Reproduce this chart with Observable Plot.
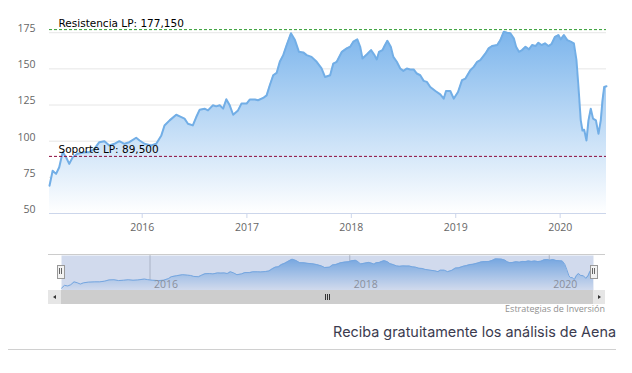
<!DOCTYPE html>
<html><head><meta charset="utf-8">
<script src="https://cdn.jsdelivr.net/npm/d3@7"></script>
<script src="https://cdn.jsdelivr.net/npm/@observablehq/plot@0.6"></script>
<style>
html,body{margin:0;padding:0;background:#fff;}
#wrap{position:relative;width:632px;height:373px;overflow:hidden;font-family:"Open Sans",sans-serif;}
#main{position:absolute;left:0;top:0;}
#nav{position:absolute;left:0;top:250px;}
.abs{position:absolute;}
</style></head><body>
<div id="wrap">
  <div id="main"></div>
  <div id="nav"></div>
  <div class="abs" style="left:48px;top:254px;width:557px;height:1px;background:#cccccc;"></div>
  <div class="abs" style="left:48px;top:290px;width:557px;height:14px;background:#cdcdcd;"></div>
  <div class="abs" style="left:48px;top:290px;width:13px;height:14px;background:#e6e6e6;"></div>
  <div class="abs" style="left:593px;top:290px;width:12px;height:14px;background:#e6e6e6;"></div>
  <div class="abs" style="left:53px;top:295px;width:0;height:0;border-top:2.5px solid transparent;border-bottom:2.5px solid transparent;border-right:3px solid #333;"></div>
  <div class="abs" style="left:598px;top:295px;width:0;height:0;border-top:2.5px solid transparent;border-bottom:2.5px solid transparent;border-left:3px solid #333;"></div>
  <div class="abs" style="left:325px;top:294px;width:1px;height:6px;background:#333;"></div>
  <div class="abs" style="left:327px;top:294px;width:1px;height:6px;background:#333;"></div>
  <div class="abs" style="left:329px;top:294px;width:1px;height:6px;background:#333;"></div>
  <div class="abs" style="left:57px;top:265px;width:6px;height:12px;background:#f2f2f2;border:1px solid #999;"></div>
  <div class="abs" style="left:59px;top:268px;width:1px;height:6px;background:#666;"></div>
  <div class="abs" style="left:61px;top:268px;width:1px;height:6px;background:#666;"></div>
  <div class="abs" style="left:590px;top:265px;width:6px;height:12px;background:#f2f2f2;border:1px solid #999;"></div>
  <div class="abs" style="left:592px;top:268px;width:1px;height:6px;background:#666;"></div>
  <div class="abs" style="left:594px;top:268px;width:1px;height:6px;background:#666;"></div>
  <div id="credit" class="abs" style="right:27px;top:302px;font-size:9px;color:#909090;white-space:nowrap;font-family:'Open Sans',sans-serif;"></div>
  <div id="cta" class="abs" style="right:16px;top:323px;font-size:14.4px;color:#3b3b4f;white-space:nowrap;font-family:Inter,sans-serif;"></div>
  <div class="abs" style="left:8px;top:349px;width:608px;height:1px;background:#d0d0d0;"></div>
</div>
<script>
const dates = [
"2015-02-11","2015-02-22","2015-03-06","2015-03-17","2015-03-29","2015-04-10","2015-04-21","2015-05-03","2015-05-20","2015-06-13",
"2015-06-30","2015-07-18","2015-08-04","2015-08-22","2015-09-08","2015-09-26","2015-10-13","2015-10-31","2015-11-17","2015-12-11",
"2015-12-23","2016-01-09","2016-02-02","2016-02-19","2016-03-08","2016-03-19","2016-04-06","2016-04-29","2016-05-17","2016-05-28",
"2016-06-09","2016-06-26","2016-07-08","2016-07-20","2016-08-06","2016-08-18","2016-09-04","2016-09-16","2016-09-28","2016-10-10",
"2016-10-21","2016-11-02","2016-11-14","2016-12-01","2016-12-13","2016-12-31","2017-01-11","2017-01-29","2017-02-09","2017-02-27",
"2017-03-11","2017-03-22","2017-04-03","2017-04-15","2017-04-26","2017-05-08","2017-05-20","2017-06-04","2017-06-18","2017-07-02",
"2017-07-17","2017-07-29","2017-08-15","2017-09-02","2017-09-19","2017-10-01","2017-10-19","2017-10-30","2017-11-11","2017-11-29",
"2017-12-16","2017-12-28","2018-01-08","2018-01-22","2018-02-01","2018-02-09","2018-02-24","2018-03-11","2018-03-23","2018-03-31",
"2018-04-08","2018-04-20","2018-04-27","2018-05-07","2018-05-19","2018-05-28","2018-06-09","2018-06-21","2018-07-02","2018-07-14",
"2018-07-26","2018-08-07","2018-08-18","2018-08-30","2018-09-11","2018-09-22","2018-10-04","2018-10-22","2018-11-08","2018-11-20",
"2018-11-28","2018-12-13","2018-12-25","2019-01-09","2019-01-23","2019-02-04","2019-02-21","2019-03-05","2019-03-17","2019-03-28",
"2019-04-15","2019-04-26","2019-05-08","2019-05-26","2019-06-06","2019-06-18","2019-06-30","2019-07-11","2019-07-23","2019-07-31",
"2019-08-10","2019-08-21","2019-09-02","2019-09-14","2019-09-25","2019-10-07","2019-10-17","2019-10-28","2019-11-09","2019-11-21",
"2019-12-02","2019-12-14","2019-12-26","2020-01-03","2020-01-14","2020-01-26","2020-02-07","2020-02-18","2020-02-27","2020-03-05",
"2020-03-13","2020-03-19","2020-03-25","2020-04-02","2020-04-09","2020-04-17","2020-04-25","2020-05-05","2020-05-14","2020-05-22",
"2020-05-28","2020-06-03","2020-06-11"
];
const prices = [
69.2,79.6,77.4,82,92.4,88.9,84.3,88.9,91.3,92.4,
92.4,94.7,99.3,100,97,98.2,100,98.2,99.3,102.4,
100.5,98.2,97,98.2,104,110.9,114.4,118.3,116.7,115.6,
112.1,110.9,116.7,121.8,122.5,121.3,124.8,124.1,124.8,122.5,
129,124.8,118.3,121.3,126,126,128.8,128.8,128.3,129.9,
131.7,138.7,145.6,147.2,154.9,159.5,166.5,174.6,169.9,161.8,
161.4,159.5,158.3,154.9,150.3,144.4,145.6,153.7,154.9,161.8,
164.2,165.3,168.8,170.4,165.3,157.2,160,163,159.5,156.5,
161.8,163,165.8,169.4,165.3,158.3,154.9,150.3,148.6,150.3,
149.6,149.6,146.8,145.6,141.7,141,137.5,134.7,132.4,129.4,
134.7,134.7,129.4,134,142.2,143.3,149.1,151.4,154.9,156,
160.7,164.2,165.8,166.5,169.9,175.7,175,174.6,171.1,165.3,
161.8,163,165.3,163.5,166.5,165.8,168.1,166.5,167.7,165.8,
167.2,172.2,173.4,170.4,173.4,169.9,168.8,167.7,156,137.5,
114.4,107.4,107.9,100.5,114.4,122.5,115.6,114.4,105.1,114.4,
128.3,137.5,138
];
const yTicks = [50, 75, 100, 125, 150, 175];
const xTickYears = [2016, 2017, 2018, 2019, 2020];
const navTickYears = [2016, 2018, 2020];
const supportValue = 89.5;
const resistanceValue = 177.15;
const supportLabel = "Soporte LP: 89,500";
const resistanceLabel = "Resistencia LP: 177,150";
const creditText = "Estrategias de Inversión";
const ctaText = "Reciba gratuitamente los análisis de Aena";

const data = dates.map((d, i) => ({date: new Date(d), price: prices[i]}));
const domainX = [data[0].date, data[data.length - 1].date];
const yearDate = y => new Date(Date.UTC(y, 0, 1));

function gradient(id, top, bottom) {
  return () => {
    const defs = d3.create("svg:defs");
    const g = defs.append("linearGradient").attr("id", id)
      .attr("x1", 0).attr("y1", 0).attr("x2", 0).attr("y2", 1);
    g.append("stop").attr("offset", "0%").attr("stop-color", top);
    g.append("stop").attr("offset", "100%").attr("stop-color", bottom);
    return defs.node();
  };
}

const labelStyle = {frameAnchor: "left", dx: 9, dy: -3, lineAnchor: "bottom", textAnchor: "start", fill: "#000", fontSize: 10.5, fontFamily: "DejaVu Sans"};

const main = Plot.plot({
  width: 632, height: 240,
  marginLeft: 49, marginRight: 26, marginTop: 25, marginBottom: 27,
  style: {fontFamily: "Open Sans", fontSize: "10.5px", color: "#666", background: "transparent"},
  x: {type: "utc", domain: domainX, label: null},
  y: {domain: [50, 180], label: null},
  marks: [
    gradient("mainGrad", "#7cb5ec", "#ffffff"),
    Plot.gridY(yTicks.slice(1), {stroke: "#e6e6e6", strokeOpacity: 1}),
    Plot.areaY(data, {x: "date", y1: 50, y2: "price", fill: "url(#mainGrad)"}),
    Plot.lineY(data, {x: "date", y: "price", stroke: "#72aee6", strokeWidth: 2}),
    Plot.ruleY([50], {stroke: "#ccd6eb"}),
    Plot.ruleY([resistanceValue], {stroke: "#2e9a2e", strokeDasharray: "3,2"}),
    Plot.ruleY([supportValue], {stroke: "#8b0a3c", strokeDasharray: "3,2"}),
    Plot.text([resistanceLabel], {y: [resistanceValue], text: d => d, ...labelStyle}),
    Plot.text([supportLabel], {y: [supportValue], text: d => d, ...labelStyle}),
    Plot.axisY(yTicks, {tickSize: 0, tickPadding: 14, dy: -4, fill: "#666", label: null}),
    Plot.axisX(xTickYears.map(yearDate), {tickSize: 5, tickPadding: 5, stroke: "#ccd6eb", fill: "#666", tickFormat: "%Y", label: null})
  ]
});
document.getElementById("main").appendChild(main);

const nav = Plot.plot({
  width: 632, height: 45,
  marginLeft: 61, marginRight: 39, marginTop: 5, marginBottom: 5,
  style: {fontFamily: "Open Sans", fontSize: "10.5px", color: "#666", background: "transparent"},
  x: {type: "utc", domain: domainX, axis: null},
  y: {domain: [61, 188], axis: null},
  marks: [
    gradient("navGrad", "#7cb5ec", "#ffffff"),
    Plot.ruleX(navTickYears.map(yearDate), {stroke: "#c8c8c8"}),
    Plot.areaY(data, {x: "date", y1: 61, y2: "price", fill: "url(#navGrad)"}),
    Plot.lineY(data, {x: "date", y: "price", stroke: "#7cb5ec", strokeWidth: 1}),
    Plot.frame({fill: "rgba(102,133,194,0.3)", stroke: null}),
    Plot.text(navTickYears.map(yearDate), {x: d => d, text: d => String(d.getUTCFullYear()), frameAnchor: "bottom", dy: -3, dx: 4, textAnchor: "start", fill: "#8a8f9c"})
  ]
});
document.getElementById("nav").appendChild(nav);
document.getElementById("credit").textContent = creditText;
document.getElementById("cta").textContent = ctaText;
</script>
</body></html>
